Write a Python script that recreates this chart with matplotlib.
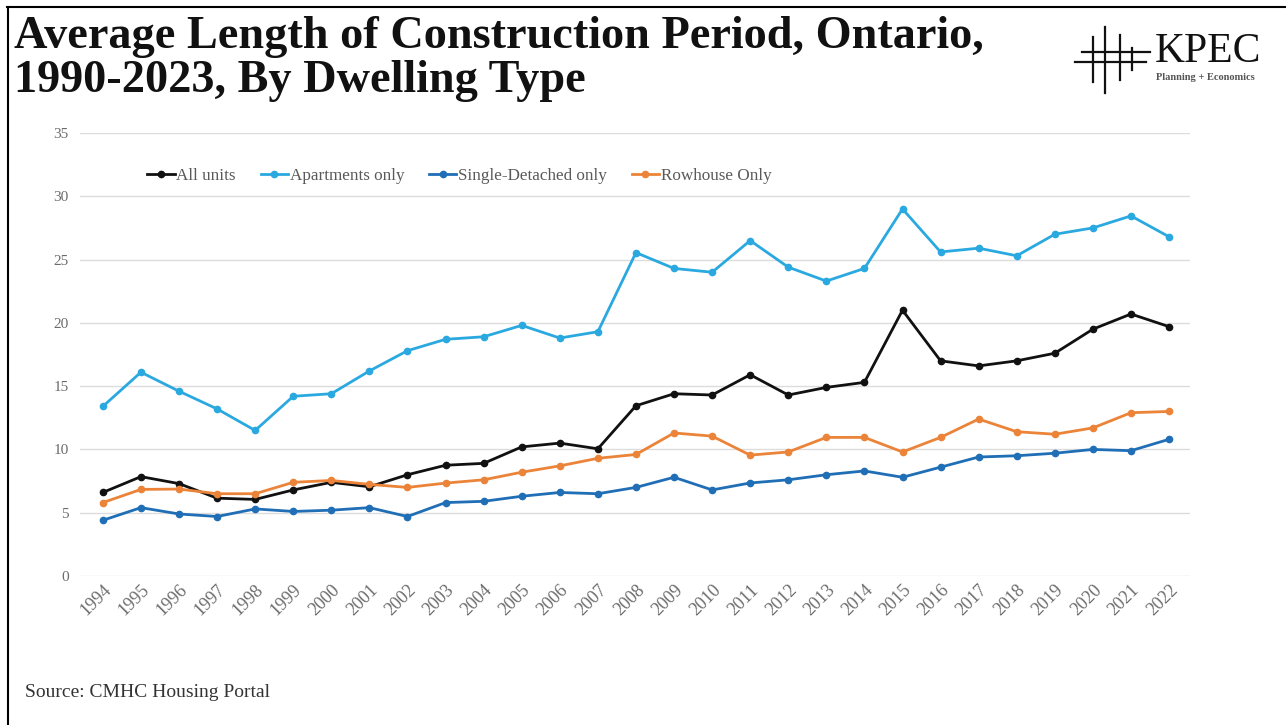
import matplotlib
matplotlib.use("Agg")
import matplotlib.pyplot as plt
from matplotlib.lines import Line2D

years = [str(y) for y in range(1994, 2023)]

all_units = [6.6, 7.85, 7.3, 6.15, 6.05, 6.8, 7.4, 7.05, 8.0, 8.75, 8.9, 10.2, 10.5, 10.05,
             13.45, 14.4, 14.3, 15.9, 14.3, 14.9, 15.3, 21.0, 17.0, 16.6, 17.0, 17.6, 19.5, 20.7, 19.7]
apartments = [13.4, 16.1, 14.6, 13.2, 11.5, 14.2, 14.4, 16.2, 17.8, 18.7, 18.9, 19.8, 18.8, 19.3,
              25.55, 24.3, 24.0, 26.5, 24.4, 23.3, 24.3, 29.0, 25.6, 25.9, 25.3, 27.0, 27.5, 28.45, 26.8]
single_detached = [4.4, 5.4, 4.9, 4.7, 5.3, 5.1, 5.2, 5.4, 4.7, 5.8, 5.9, 6.3, 6.6, 6.5,
                   7.0, 7.8, 6.8, 7.35, 7.6, 8.0, 8.3, 7.8, 8.6, 9.4, 9.5, 9.7, 10.0, 9.9, 10.8]
rowhouse = [5.8, 6.84, 6.87, 6.5, 6.5, 7.4, 7.55, 7.24, 7.0, 7.34, 7.6, 8.2, 8.7, 9.3,
            9.6, 11.3, 11.05, 9.55, 9.8, 10.95, 10.95, 9.8, 10.95, 12.4, 11.4, 11.2, 11.7, 12.9, 13.0]

series = [
    ("All units", all_units, "#111111"),
    ("Apartments only", apartments, "#2AA9E0"),
    ("Single-Detached only", single_detached, "#1F6EB6"),
    ("Rowhouse Only", rowhouse, "#EB8438"),
]

serif = "Liberation Serif"
grey = "#6b6b6b"

fig = plt.figure(figsize=(12.86, 7.25), dpi=100)
fig.patch.set_facecolor("white")

# cadre noir en haut et a gauche
fig.add_artist(Line2D([7 / 1286, 1], [1 - 7 / 725, 1 - 7 / 725], color="black", lw=1.5))
fig.add_artist(Line2D([8 / 1286, 8 / 1286], [0, 1 - 7 / 725], color="black", lw=1.5))

ax = fig.add_axes([80 / 1286, 1 - 576 / 725, 1110 / 1286, 443 / 725])
x = list(range(len(years)))
for nom, valeurs, couleur in series:
    ax.plot(x, valeurs, color=couleur, lw=2.0, marker="o", markersize=4.5, label=nom)

ax.set_ylim(0, 35)
ax.set_xlim(-0.6, len(years) - 0.45)
ax.set_yticks(range(0, 36, 5))
ax.set_xticks(x)
ax.set_xticklabels(years, rotation=45, ha="right", rotation_mode="anchor",
                   fontsize=13, color=grey, family=serif)
for t in ax.get_yticklabels():
    t.set_fontsize(11)
    t.set_color(grey)
    t.set_family(serif)
ax.tick_params(length=0)
ax.tick_params(axis="y", pad=8)
ax.tick_params(axis="x", pad=4)
ax.grid(axis="y", color="#dcdcdc", lw=1)
ax.set_axisbelow(True)
for s in ax.spines.values():
    s.set_visible(False)

leg = ax.legend(loc="center left", bbox_to_anchor=(132 / 1286, 1 - 176 / 725),
                bbox_transform=fig.transFigure, ncol=4, frameon=False,
                handlelength=1.6, handletextpad=0.1, columnspacing=1.45,
                prop={"family": serif, "size": 12.3})
for t in leg.get_texts():
    t.set_color("#595959")

# titre
fig.text(14 / 1286, 1 - 48 / 725, "Average Length of Construction Period, Ontario,",
         family=serif, weight="bold", fontsize=33.3, color="#111111", va="baseline")
fig.text(14 / 1286, 1 - 92 / 725, "1990-2023, By Dwelling Type",
         family=serif, weight="bold", fontsize=33.3, color="#111111", va="baseline")

# logo KPEC
def trait(x0, y0, x1, y1, lw=1.6):
    fig.add_artist(Line2D([x0 / 1286, x1 / 1286], [1 - y0 / 725, 1 - y1 / 725], color="#111111", lw=lw))

trait(1082, 52, 1150, 52)
trait(1075, 62, 1146, 62)
trait(1093, 37, 1093, 82)
trait(1105, 27, 1105, 93)
trait(1120, 35, 1120, 80)
trait(1132, 48, 1132, 70)
fig.text(1155 / 1286, 1 - 62 / 725, "KPEC", family=serif, fontsize=30, color="#111111", va="baseline")
fig.text(1156 / 1286, 1 - 80 / 725, "Planning + Economics", family=serif, weight="bold",
         fontsize=7.5, color="#555555", va="baseline")

fig.text(25 / 1286, 1 - 697 / 725, "Source: CMHC Housing Portal", family=serif,
         fontsize=14, color="#333333", va="baseline")

fig.savefig("out.png", dpi=100)
